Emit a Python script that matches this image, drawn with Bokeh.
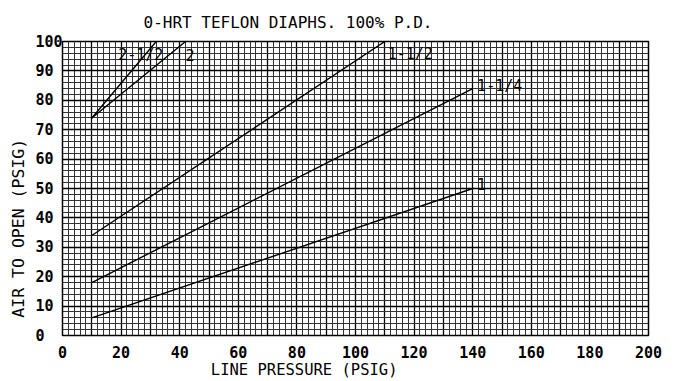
from bokeh.plotting import figure
from bokeh.models import SingleIntervalTicker, FixedTicker, Range1d
from bokeh.core.properties import value
from bokeh.embed import file_html
from bokeh.resources import INLINE

# ---- data ----
title_text = "0-HRT TEFLON DIAPHS. 100% P.D."
x_label = "LINE PRESSURE (PSIG)"
y_label = "AIR TO OPEN (PSIG)"

x_ticks = [0, 20, 40, 60, 80, 100, 120, 140, 160, 180, 200]
y_ticks = [0, 10, 20, 30, 40, 50, 60, 70, 80, 90, 100]

size_names = ["1", "1-1/4", "1-1/2", "2", "2-1/2"]
x_1 = [10, 140]
y_1 = [6, 50]
x_1_25 = [10, 140]
y_1_25 = [18, 84]
x_1_5 = [10, 110]
y_1_5 = [34, 100]
x_2 = [10, 42]
y_2 = [74, 100]
x_2_5 = [10, 32]
y_2_5 = [74, 100]

label_text = ["2-1/2", "2", "1-1/2", "1-1/4", "1"]
label_x = [19, 42, 111, 141.5, 141.5]
label_y = [95.3, 95.3, 95.6, 85, 51.7]

FONT = "DejaVu Sans Mono"
NB = "\u00a0"

p = figure(frame_width=586, frame_height=294, output_backend="svg", toolbar_location=None,
           x_range=Range1d(0, 200), y_range=Range1d(0, 100),
           min_border_left=62, min_border_right=30, min_border_top=41, min_border_bottom=38)

p.background_fill_color = "white"
p.border_fill_color = "white"
p.outline_line_color = "black"
p.outline_line_width = 1.5

p.title.text = title_text
p.title.align = "left"
p.title.offset = 81
p.title.standoff = 20
p.title.text_font = FONT
p.title.text_font_size = "16px"
p.title.text_font_style = "normal"
p.title.text_color = "black"

# axes
p.xaxis.ticker = FixedTicker(ticks=x_ticks)
p.yaxis.ticker = FixedTicker(ticks=y_ticks)
p.yaxis.major_label_overrides = {v: str(v) + NB * (3 - len(str(v))) for v in y_ticks}
for ax in (p.xaxis[0], p.yaxis[0]):
    ax.axis_line_color = None
    ax.major_tick_line_color = None
    ax.minor_tick_line_color = None
    ax.major_label_text_font = FONT
    ax.major_label_text_font_size = "15px"
    ax.major_label_text_font_style = "bold"
    ax.major_label_text_color = "black"
    ax.axis_label_text_font = FONT
    ax.axis_label_text_font_style = "normal"
    ax.axis_label_text_color = "black"

p.xaxis.axis_label = x_label + NB * 11
p.yaxis.axis_label = y_label + NB * 8
p.xaxis.axis_label_text_font_size = "15.5px"
p.yaxis.axis_label_text_font_size = "16.5px"
p.xaxis.major_label_standoff = 4
p.xaxis.axis_label_standoff = 0
p.yaxis.major_label_standoff = -6
p.yaxis.axis_label_standoff = 4

# graph-paper grid
p.xgrid.ticker = SingleIntervalTicker(interval=10, num_minor_ticks=5)
p.ygrid.ticker = SingleIntervalTicker(interval=10, num_minor_ticks=5)
for g in (p.xgrid[0], p.ygrid[0]):
    g.grid_line_color = "black"
    g.grid_line_width = 1.3
    g.grid_line_alpha = 1.0
    g.minor_grid_line_color = "#333333"
    g.minor_grid_line_width = 1
    g.minor_grid_line_alpha = 1.0

# curves
for xs, ys in [(x_1, y_1), (x_1_25, y_1_25), (x_1_5, y_1_5), (x_2, y_2), (x_2_5, y_2_5)]:
    p.line(xs, ys, line_color="black", line_width=1.4)

p.text(x=label_x, y=label_y, text=label_text, text_font=value(FONT),
       text_font_size="15px", text_baseline="middle", text_align="left",
       text_color="black")

open("out.html", "w").write(file_html(p, INLINE))
